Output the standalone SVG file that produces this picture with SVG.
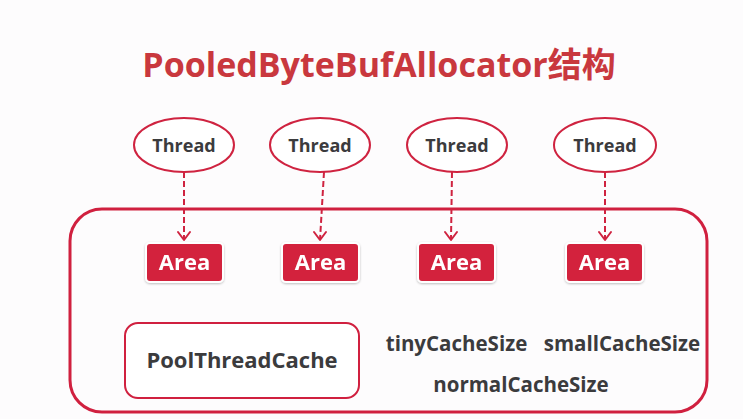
<svg xmlns="http://www.w3.org/2000/svg" width="743" height="419" viewBox="0 0 743 419">
  <defs>
    <filter id="soft" x="-20%" y="-20%" width="140%" height="150%">
      <feDropShadow dx="0" dy="1" stdDeviation="1.2" flood-color="#000" flood-opacity="0.25"/>
    </filter>
  </defs>
  <style>
    text { font-family: "Open Sans", "Noto Sans", "Noto Sans CJK SC", sans-serif; font-weight: bold; }
    .title { font-size: 34px; fill: #c9383e; }
    .thread ellipse { fill: #ffffff; stroke: #cf2340; stroke-width: 2; }
    .thread text { font-size: 18px; fill: #3b3b3d; }
    .area rect { fill: #d3203d; stroke: #ffffff; stroke-width: 2; }
    .area text { font-size: 22px; fill: #ffffff; }
    .link { stroke: #cf2340; stroke-width: 2; stroke-dasharray: 6 3; fill: none; }
    .head { stroke: #cf2340; stroke-width: 2; fill: none; stroke-linecap: round; stroke-linejoin: round; }
    .label { font-size: 20.5px; fill: #3b3b3d; }
  </style>
  <rect width="743" height="419" fill="#fdfcfd"/>

  <text class="title" x="379" y="77" text-anchor="middle">PooledByteBufAllocator结构</text>

  <!-- allocator container -->
  <g id="allocator">
    <rect x="70" y="209" width="637" height="203" rx="32" fill="none" stroke="#d0203f" stroke-width="3"/>
  </g>

  <!-- threads -->
  <g id="thread1" class="thread">
    <ellipse cx="184" cy="145" rx="50" ry="27"/>
    <text x="184" y="152" text-anchor="middle">Thread</text>
  </g>
  <g id="thread2" class="thread">
    <ellipse cx="320" cy="145" rx="50" ry="27"/>
    <text x="320" y="152" text-anchor="middle">Thread</text>
  </g>
  <g id="thread3" class="thread">
    <ellipse cx="457" cy="145" rx="50" ry="27"/>
    <text x="457" y="152" text-anchor="middle">Thread</text>
  </g>
  <g id="thread4" class="thread">
    <ellipse cx="605" cy="145" rx="51" ry="27"/>
    <text x="605" y="152" text-anchor="middle">Thread</text>
  </g>

  <!-- arenas -->
  <g id="area1" class="area" filter="url(#soft)">
    <rect x="146" y="243" width="77" height="39" rx="4"/>
    <text x="184.5" y="270" text-anchor="middle">Area</text>
  </g>
  <g id="area2" class="area" filter="url(#soft)">
    <rect x="282" y="243" width="77" height="39" rx="4"/>
    <text x="320.5" y="270" text-anchor="middle">Area</text>
  </g>
  <g id="area3" class="area" filter="url(#soft)">
    <rect x="418" y="243" width="77" height="39" rx="4"/>
    <text x="456.5" y="270" text-anchor="middle">Area</text>
  </g>
  <g id="area4" class="area" filter="url(#soft)">
    <rect x="566" y="243" width="77" height="39" rx="4"/>
    <text x="604.5" y="270" text-anchor="middle">Area</text>
  </g>

  <!-- thread to arena links -->
  <g id="links">
    <line class="link" x1="184" y1="172" x2="184" y2="240"/>
    <path class="head" d="M178,232 L184,240 L190,232"/>
    <line class="link" x1="324" y1="172" x2="320" y2="240"/>
    <path class="head" d="M314,232 L320,240 L326,232"/>
    <line class="link" x1="452" y1="172" x2="451" y2="240"/>
    <path class="head" d="M445,232 L451,240 L457,232"/>
    <line class="link" x1="605" y1="172" x2="605" y2="240"/>
    <path class="head" d="M599,232 L605,240 L611,232"/>
  </g>

  <!-- thread cache -->
  <g id="poolThreadCache">
    <rect x="125" y="323" width="234" height="75" rx="13" fill="#ffffff" stroke="#d0203f" stroke-width="2"/>
    <text class="label" x="242" y="368" text-anchor="middle" style="font-size:22px">PoolThreadCache</text>
  </g>

  <g id="cacheSizes">
    <text class="label" x="456.5" y="351" text-anchor="middle">tinyCacheSize</text>
    <text class="label" x="622" y="351" text-anchor="middle">smallCacheSize</text>
    <text class="label" x="521" y="392" text-anchor="middle">normalCacheSize</text>
  </g>
</svg>
